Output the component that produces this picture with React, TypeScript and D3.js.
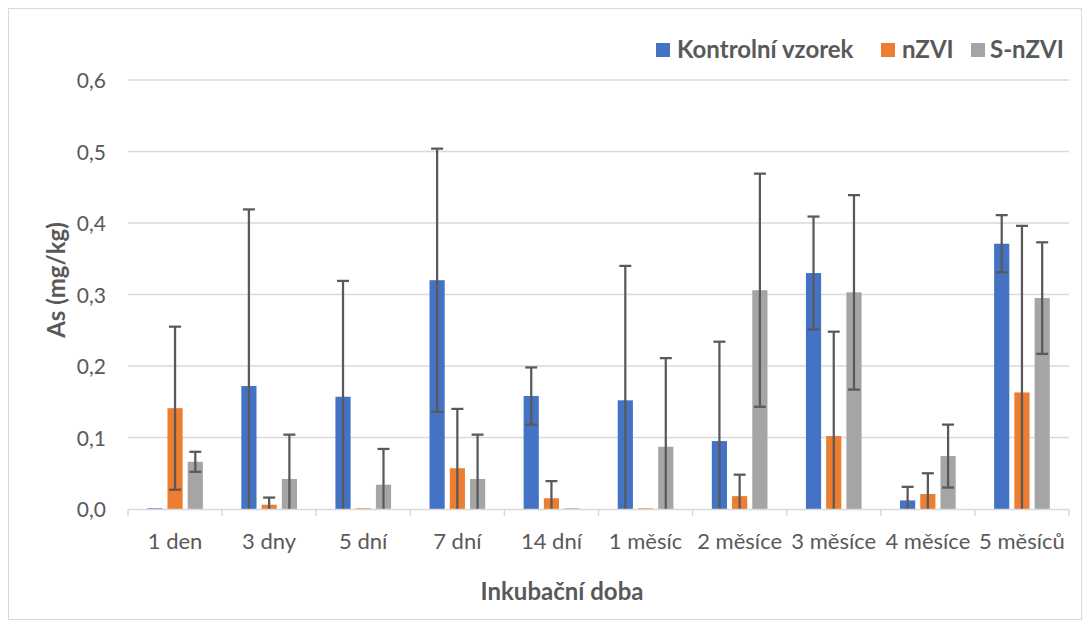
import React, { useEffect, useRef } from 'react';
import { select, scaleBand, scaleLinear } from 'd3';

const categories = ['1 den', '3 dny', '5 dní', '7 dní', '14 dní', '1 měsíc', '2 měsíce', '3 měsíce', '4 měsíce', '5 měsíců'];
const seriesNames = ['Kontrolní vzorek', 'nZVI', 'S-nZVI'];
const seriesColors = ['#4472C4', '#ED7D31', '#A5A5A5'];

const kontrolni = [0.001, 0.172, 0.157, 0.32, 0.158, 0.152, 0.095, 0.33, 0.012, 0.371];
const kontrolniErr = [0, 0.247, 0.162, 0.184, 0.04, 0.188, 0.139, 0.079, 0.019, 0.04];
const nzvi = [0.141, 0.006, 0.001, 0.057, 0.015, 0.001, 0.018, 0.102, 0.021, 0.163];
const nzviErr = [0.114, 0.01, 0, 0.083, 0.024, 0, 0.03, 0.146, 0.029, 0.233];
const snzvi = [0.066, 0.042, 0.034, 0.042, 0.001, 0.087, 0.306, 0.303, 0.074, 0.295];
const snzviErr = [0.014, 0.062, 0.05, 0.062, 0, 0.124, 0.163, 0.136, 0.044, 0.078];

const yTicks = [0, 0.1, 0.2, 0.3, 0.4, 0.5, 0.6];

const values = [kontrolni, nzvi, snzvi];
const errors = [kontrolniErr, nzviErr, snzviErr];

const dims = {
  width: 1090,
  height: 628,
  left: 128,
  right: 1069,
  top: 80,
  bottom: 509,
};

const font = 'Lato, "Open Sans", sans-serif';

function App() {
  const svgRef = useRef<SVGSVGElement | null>(null);

  useEffect(() => {
    const svg = select(svgRef.current);
    svg.selectAll('*').remove();

    const x = scaleBand().domain(categories).range([dims.left, dims.right]).paddingInner(0).paddingOuter(0);
    const xs = scaleBand().domain(seriesNames).range([0, x.bandwidth()]).paddingOuter(0.95).paddingInner(0.25);
    const y = scaleLinear().domain([0, 0.6]).range([dims.bottom, dims.top]);

    svg.append('rect')
      .attr('x', 8.5).attr('y', 8.5)
      .attr('width', 1073).attr('height', 611)
      .attr('fill', '#fff').attr('stroke', '#d9d9d9');

    // gridlines
    svg.append('g').selectAll('line').data(yTicks.slice(1)).enter().append('line')
      .attr('x1', dims.left).attr('x2', dims.right)
      .attr('y1', d => y(d)).attr('y2', d => y(d))
      .attr('stroke', '#d9d9d9').attr('stroke-width', 1.5);

    // y labels
    svg.append('g').selectAll('text').data(yTicks).enter().append('text')
      .attr('x', 106).attr('y', d => y(d) + 8)
      .attr('text-anchor', 'end')
      .attr('font-family', font).attr('font-size', 21).attr('fill', '#595959')
      .text(d => d.toFixed(1).replace('.', ','));

    // bars
    seriesNames.forEach((s, si) => {
      const g = svg.append('g');
      g.selectAll('rect').data(values[si]).enter().append('rect')
        .attr('x', (_, i) => x(categories[i])! + xs(s)!)
        .attr('width', xs.bandwidth())
        .attr('y', d => y(d))
        .attr('height', d => y(0) - y(d))
        .attr('fill', seriesColors[si]);
    });

    // error bars
    seriesNames.forEach((s, si) => {
      const g = svg.append('g').attr('stroke', '#595959').attr('stroke-width', 2.25);
      values[si].forEach((v, i) => {
        const e = errors[si][i];
        if (e <= 0) return;
        const cx = x(categories[i])! + xs(s)! + xs.bandwidth() / 2;
        const hi = y(v + e);
        const loVal = v - e;
        const lo = y(Math.max(0, loVal));
        g.append('line').attr('x1', cx).attr('x2', cx).attr('y1', hi).attr('y2', lo);
        g.append('line').attr('x1', cx - 6).attr('x2', cx + 6).attr('y1', hi).attr('y2', hi);
        if (loVal > 0) {
          g.append('line').attr('x1', cx - 6).attr('x2', cx + 6).attr('y1', lo).attr('y2', lo);
        }
      });
    });

    // x axis
    svg.append('line')
      .attr('x1', dims.left).attr('x2', dims.right)
      .attr('y1', y(0) + 0.5).attr('y2', y(0) + 0.5)
      .attr('stroke', '#d9d9d9').attr('stroke-width', 1.5);
    const boundaries = categories.map(c => x(c)!).concat([dims.right]);
    svg.append('g').selectAll('line').data(boundaries).enter().append('line')
      .attr('x1', d => d).attr('x2', d => d)
      .attr('y1', y(0)).attr('y2', y(0) + 7)
      .attr('stroke', '#d9d9d9').attr('stroke-width', 1.5);

    svg.append('g').selectAll('text').data(categories).enter().append('text')
      .attr('x', d => x(d)! + x.bandwidth() / 2)
      .attr('y', 549)
      .attr('text-anchor', 'middle')
      .attr('font-family', font).attr('font-size', 22).attr('fill', '#595959')
      .text(d => d);

    // axis titles
    svg.append('text')
      .attr('x', 562).attr('y', 600)
      .attr('text-anchor', 'middle')
      .attr('font-family', font).attr('font-size', 24).attr('font-weight', 'bold').attr('fill', '#595959')
      .text('Inkubační doba');
    svg.append('text')
      .attr('transform', 'translate(65, 280) rotate(-90)')
      .attr('text-anchor', 'middle')
      .attr('font-family', font).attr('font-size', 24).attr('font-weight', 'bold').attr('fill', '#595959')
      .text('As (mg/kg)');

    // legend
    const legendX = [656, 881, 971];
    const legendTextX = [677, 902, 990];
    seriesNames.forEach((s, si) => {
      svg.append('rect')
        .attr('x', legendX[si]).attr('y', 43)
        .attr('width', 14).attr('height', 14)
        .attr('fill', seriesColors[si]);
      svg.append('text')
        .attr('x', legendTextX[si]).attr('y', 58)
        .attr('font-family', font).attr('font-size', 24).attr('font-weight', 'bold').attr('fill', '#595959')
        .text(s);
    });
  }, []);

  return (
    <svg ref={svgRef} width={dims.width} height={dims.height} style={{ position: 'absolute', left: 0, top: 0 }} />
  );
}

export default App;
